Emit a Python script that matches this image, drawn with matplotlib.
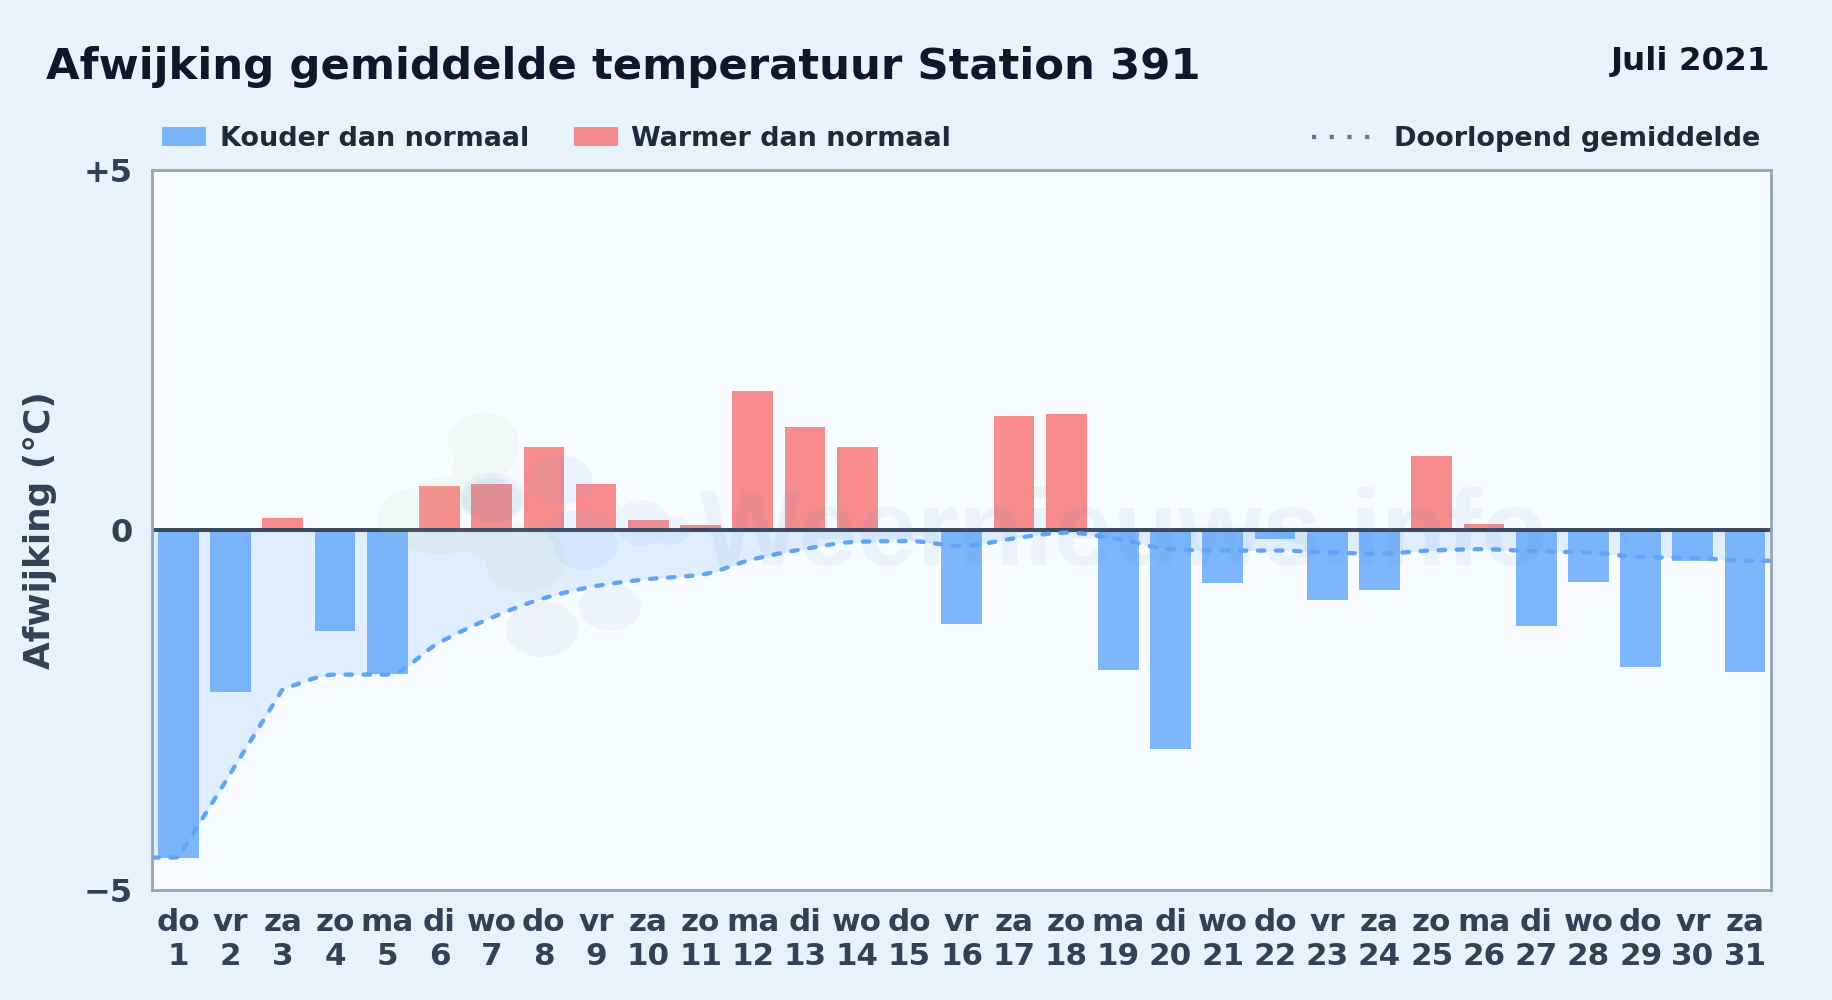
import numpy as np
import matplotlib
matplotlib.use("Agg")
import matplotlib.pyplot as plt
from matplotlib.patches import Patch, PathPatch
from matplotlib.path import Path
from matplotlib.lines import Line2D
from matplotlib.transforms import Affine2D

days = list(range(1, 32))
weekdays = ["do","vr","za","zo","ma","di","wo","do","vr","za","zo","ma","di","wo","do","vr",
            "za","zo","ma","di","wo","do","vr","za","zo","ma","di","wo","do","vr","za"]
deviation = [-4.55,-2.245,0.167,-1.40,-2.0,0.61,0.64,1.15,0.64,0.14,0.07,1.92,1.43,1.15,0.0,-1.315,
             1.58,1.60,-1.94,-3.04,-0.745,-0.135,-0.97,-0.83,1.03,0.083,-1.33,-0.73,-1.91,-0.43,-1.97]
running_mean = [-4.55,-3.38,-2.21,-2.01,-2.01,-1.565,-1.22,-0.95,-0.78,-0.685,-0.625,-0.41,-0.265,
                -0.167,-0.157,-0.227,-0.12,-0.04,-0.13,-0.27,-0.29,-0.287,-0.315,-0.333,-0.287,
                -0.27,-0.30,-0.315,-0.38,-0.39,-0.43]
corner_days = [1, 3]

W, H = 1832, 1000
BG = "#e8f2fb"; AX_BG = "#f8fbff"; BLUE = "#60a5fa"; RED = "#f87171"
DARK = "#0f172a"; SLATE = "#334155"; LEG = "#1e293b"

fig = plt.figure(figsize=(W/100, H/100), dpi=100, facecolor=BG)
plt.rcParams["font.family"] = ["DejaVu Sans"]
ax = fig.add_axes([152.2/W, 1-890/H, 1619/W, 720.5/H], facecolor=AX_BG)

x = np.array(days, float)
y = np.array(deviation)
m = np.array(running_mean)
xlim = (0.5, 31.5)

def smooth_curve(xs, ys, n=24):
    """Monotone cubic rendering of the running mean, flat beyond both ends."""
    corners = set(float(c) for c in corner_days)
    xs = np.r_[xlim[0], xs, xlim[1]]
    ys = np.r_[ys[0], ys, ys[-1]]
    h = np.diff(xs)
    s = np.diff(ys) / h
    tl = np.zeros_like(ys)
    tr = np.zeros_like(ys)
    for i in range(1, len(ys)-1):
        if xs[i] in corners:
            tl[i], tr[i] = s[i-1], s[i]
        elif s[i-1]*s[i] > 0:
            w1, w2 = 2*h[i]+h[i-1], h[i]+2*h[i-1]
            tl[i] = tr[i] = (w1+w2)/(w1/s[i-1]+w2/s[i])
    X, Y = [], []
    for i in range(len(h)):
        u = np.linspace(0, 1, n, endpoint=False)
        a = (1+2*u)*(1-u)**2; b = u*(1-u)**2; c = u*u*(3-2*u); d = u*u*(u-1)
        X.append(xs[i]+u*h[i])
        Y.append(a*ys[i]+b*h[i]*tr[i]+c*ys[i+1]+d*h[i]*tl[i+1])
    return np.r_[np.concatenate(X), xs[-1]], np.r_[np.concatenate(Y), ys[-1]]

cx, cy = smooth_curve(x, m)
ax.fill_between(cx, cy, 0, color=BLUE, alpha=0.16, lw=0, zorder=1)
colors = [BLUE if v < 0 else RED for v in y]
ax.bar(x, y, width=0.78, color=colors, alpha=0.8, lw=0, zorder=2)
ax.axhline(0, color=SLATE, lw=2.9, alpha=0.95, zorder=3)
ax.plot(cx, cy, color=BLUE, lw=3.1, ls=(0, (1.5, 2.7)), dash_capstyle="round", zorder=4)

ax.set_xlim(*xlim)
ax.set_ylim(-5, 5)
ax.set_yticks([-5, 0, 5])
ax.set_yticklabels(["\u22125", "0", "+5"], fontsize=23, fontweight="bold", color=SLATE)
ax.set_xticks(x)
ax.set_xticklabels([f"{w}\n{d}" for w, d in zip(weekdays, days)], fontsize=22.3,
                   fontweight="bold", color=SLATE, linespacing=1.2)
ax.tick_params(axis="both", length=0)
ax.tick_params(axis="y", pad=14)
ax.tick_params(axis="x", pad=13)
for sp in ax.spines.values():
    sp.set_color("#94a3b8"); sp.set_linewidth(2)
    sp.set_zorder(6)

fig.text(40/W, 1-530/H, "Afwijking (\u00b0C)", rotation=90, ha="center", va="center",
         fontsize=25.8, fontweight="bold", color=SLATE)
fig.text(46/W, 1-79/H, "Afwijking gemiddelde temperatuur Station 391", ha="left", va="baseline",
         fontsize=31.2, fontweight="bold", color=DARK)
fig.text(1770.5/W, 1-70/H, "Juli 2021", ha="right", va="baseline", fontsize=23.4,
         fontweight="bold", color=DARK)

# legends
lk = dict(frameon=False, borderpad=0, borderaxespad=0, labelcolor=LEG,
          bbox_transform=fig.transFigure)
leg1 = fig.legend(handles=[Patch(color=BLUE, alpha=0.8, lw=0, label="Kouder dan normaal"),
                           Patch(color=RED, alpha=0.8, lw=0, label="Warmer dan normaal")],
                  loc="center left", bbox_to_anchor=(162/W, 1-139/H), ncol=2,
                  prop=dict(weight="bold", size=19.45),
                  handlelength=1.63, handleheight=0.7, handletextpad=0.5, columnspacing=1.67, **lk)
leg2 = fig.legend(handles=[Line2D([], [], color="#64748b", lw=3, ls=(0, (1, 3.25)),
                                  label="Doorlopend gemiddelde")],
                  loc="center right", bbox_to_anchor=(1760/W, 1-139/H),
                  prop=dict(weight="bold", size=19.5),
                  handlelength=2.16, handletextpad=0.85, **lk)

# watermark
fig.text(1124/W, 1-565/H, "Weernieuws.info", ha="center", va="baseline", fontsize=77,
         fontweight="bold", family="Liberation Sans", color="#3b7fd0", alpha=0.07, zorder=5)

def blob(ellipses, color, alpha):
    paths = []
    for (ex, ey, rx, ry) in ellipses:
        tr = Affine2D().scale(rx, ry).translate(ex, H-ey)
        paths.append(Path.unit_circle().transformed(tr))
    fig.add_artist(PathPatch(Path.make_compound_path(*paths), facecolor=color, edgecolor="none",
                             alpha=alpha, transform=None, zorder=5))

blob([(483, 441, 35, 28), (490, 450, 28, 28), (478, 470, 26, 30), (450, 495, 40, 18), (410, 518, 32, 29),
      (440, 540, 40, 14), (525, 558, 40, 35), (500, 540, 35, 22)], "#a8d07a", 0.08)
blob([(493, 498, 32, 25), (560, 480, 33, 24), (580, 530, 35, 20), (585, 545, 32, 25)], BLUE, 0.09)
blob([(642, 523, 27, 23), (610, 607, 31, 24), (670, 530, 20, 15)], BLUE, 0.07)
blob([(542, 629, 36, 28), (492, 500, 30, 22)], "#64748b", 0.055)

fig.savefig("out.png", dpi=100, facecolor=BG)
